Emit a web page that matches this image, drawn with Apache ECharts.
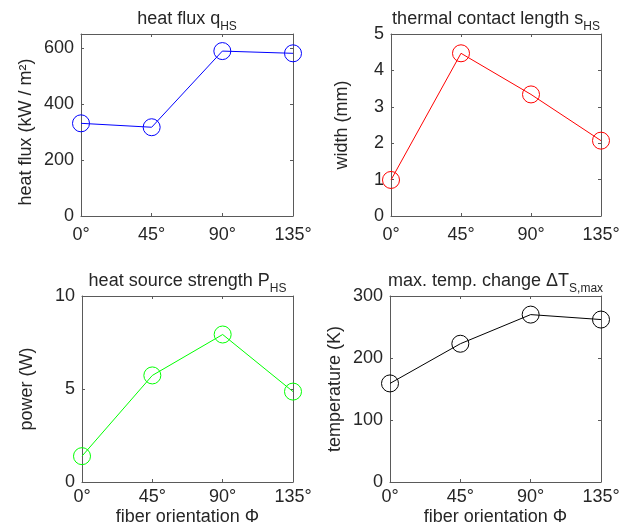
<!DOCTYPE html>
<html>
<head>
<meta charset="utf-8">
<script src="https://cdn.jsdelivr.net/npm/echarts@6/dist/echarts.min.js"></script>
<style>
  html, body { margin: 0; padding: 0; background: #fff; }
  #main { width: 626px; height: 532px; }
</style>
</head>
<body>
<div id="main"></div>
<script>
// fiber orientation angles (deg)
const angles = [0, 45, 90, 135];
const heatFlux = [331, 317, 589, 581];        // kW / m^2
const contactLength = [0.99, 4.47, 3.34, 2.07]; // mm
const sourceStrength = [1.39, 5.73, 7.93, 4.86]; // W
const tempChange = [159, 223, 270, 262];       // K

const font = "'Liberation Sans', Arial, sans-serif";
const textColor = '#262626';
const boxColor = '#5a5a5a';

const panels = [
  { title: '{m|heat flux q}{s|HS}', yName: 'heat flux (kW / m²)', values: heatFlux, color: '#0000ff',
    ymax: 650, step: 200, grid: { left: 81, top: 34, width: 212, height: 182 }, nameGap: 46, yPad: [0, 14, 0, 0], xName: '', xMargin: 10 },
  { title: '{m|thermal contact length s}{s|HS}', yName: 'width (mm)', values: contactLength, color: '#ff0000',
    ymax: 5, step: 1, grid: { left: 391, top: 34, width: 210, height: 182 }, nameGap: 40, yPad: 0, xName: '', xMargin: 10 },
  { title: '{m|heat source strength P}{s|HS}', yName: 'power (W)', values: sourceStrength, color: '#00ff00',
    ymax: 10, step: 5, grid: { left: 82, top: 296, width: 211, height: 186 }, nameGap: 46, yPad: 0, xName: 'fiber orientation Φ', xMargin: 6 },
  { title: '{m|max. temp. change ΔT}{s|S,max}', yName: 'temperature (K)', values: tempChange, color: '#000000',
    ymax: 300, step: 100, grid: { left: 390, top: 296, width: 211, height: 186 }, nameGap: 46, yPad: 0, xName: 'fiber orientation Φ', xMargin: 6 }
];

const lineStyle = { color: boxColor, width: 1 };
const tickStyle = { show: true, inside: true, length: 3, lineStyle: { color: boxColor } };

const grids = [], xAxes = [], yAxes = [], series = [];

panels.forEach((p, i) => {
  grids.push(p.grid);
  // bottom axis with labels
  xAxes.push({
    type: 'value', gridIndex: i, min: 0, max: 135, interval: 45, position: 'bottom',
    axisLine: { onZero: false, lineStyle }, axisTick: tickStyle, splitLine: { show: false },
    axisLabel: { formatter: v => v + '°', color: textColor, fontSize: 18, fontFamily: font, margin: p.xMargin },
    name: p.xName, nameLocation: 'middle', nameGap: 26,
    nameTextStyle: { color: textColor, fontSize: 18, fontFamily: font, verticalAlign: 'top' }
  });
  // top axis carries the title
  xAxes.push({
    type: 'value', gridIndex: i, min: 0, max: 135, interval: 45, position: 'top',
    axisLine: { onZero: false, lineStyle }, axisTick: tickStyle, splitLine: { show: false },
    axisLabel: { show: false },
    name: p.title, nameLocation: 'middle', nameGap: 2,
    nameTextStyle: {
      color: textColor, fontFamily: font,
      rich: {
        m: { fontSize: 18, lineHeight: 22, verticalAlign: 'top', color: textColor, fontFamily: font },
        s: { fontSize: 12, lineHeight: 12, verticalAlign: 'top', padding: [11, 0, 0, 0], color: textColor, fontFamily: font }
      }
    }
  });
  yAxes.push({
    type: 'value', gridIndex: i, min: 0, max: p.ymax, interval: p.step, position: 'left',
    axisLine: { show: true, onZero: false, lineStyle }, axisTick: tickStyle, splitLine: { show: false },
    axisLabel: { color: textColor, fontSize: 18, fontFamily: font, margin: 7, showMaxLabel: p.ymax % p.step === 0 },
    name: p.yName, nameLocation: 'middle', nameGap: p.nameGap,
    nameTextStyle: { color: textColor, fontSize: 18, fontFamily: font, padding: p.yPad }
  });
  yAxes.push({
    type: 'value', gridIndex: i, min: 0, max: p.ymax, interval: p.step, position: 'right',
    axisLine: { show: true, onZero: false, lineStyle }, axisTick: tickStyle, splitLine: { show: false },
    axisLabel: { show: false }
  });
  series.push({
    type: 'line', xAxisIndex: i * 2, yAxisIndex: i * 2,
    data: angles.map((a, k) => [a, p.values[k]]),
    symbol: 'circle', symbolSize: 17,
    lineStyle: { color: p.color, width: 1 },
    itemStyle: { color: 'rgba(0,0,0,0)', borderColor: p.color, borderWidth: 1 },
    animation: false
  });
});

const myChart = echarts.init(document.getElementById('main'));
myChart.setOption({
  animation: false,
  grid: grids,
  xAxis: xAxes,
  yAxis: yAxes,
  series: series
});
</script>
</body>
</html>
